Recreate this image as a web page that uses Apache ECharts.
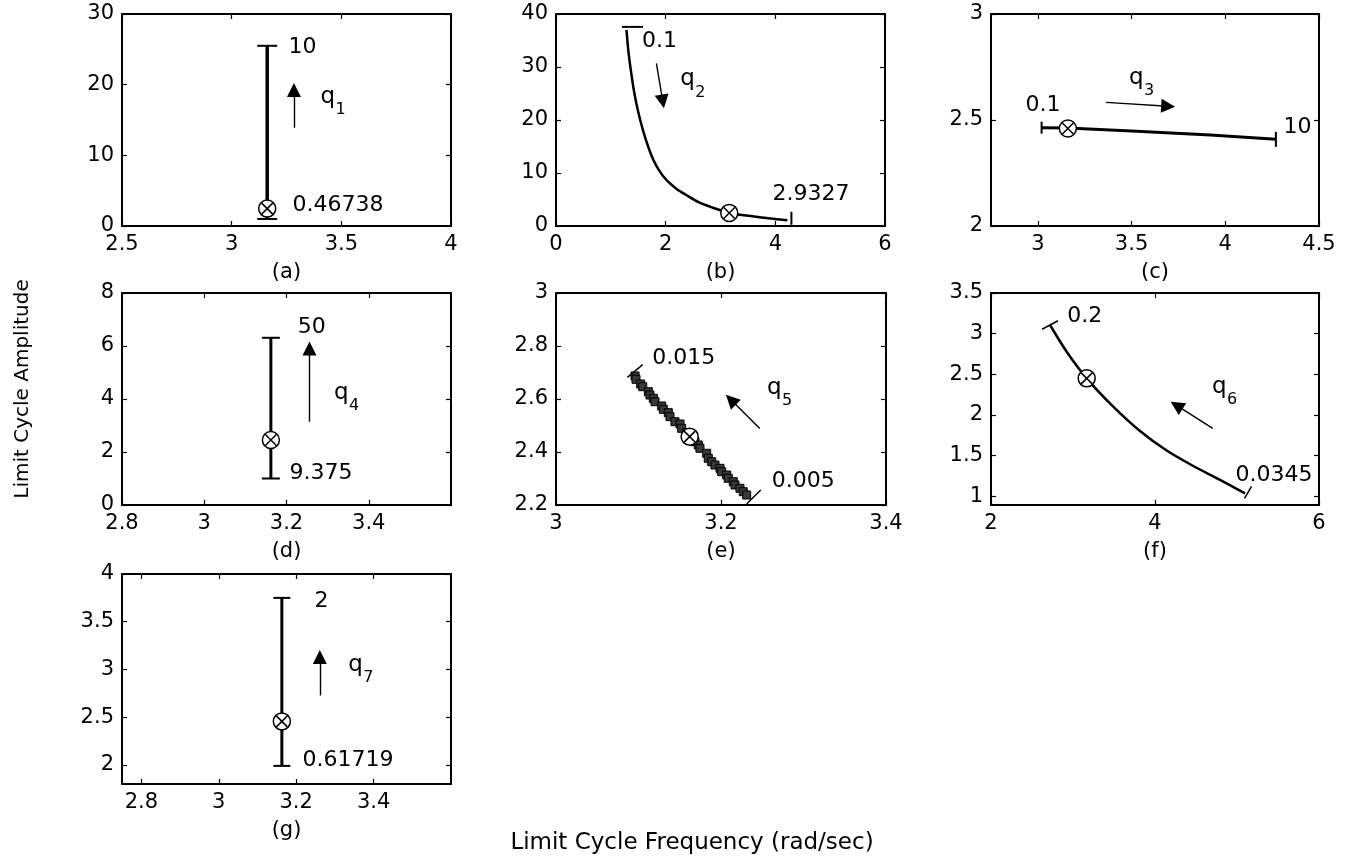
<!DOCTYPE html>
<html><head><meta charset="utf-8">
<script src="https://cdn.jsdelivr.net/npm/echarts@6/dist/echarts.min.js"></script>
<style>html,body{margin:0;padding:0;background:#fff}#c{width:1355px;height:862px}</style>
</head><body><div id="c"></div>
<script>
// ---------------- DATA ----------------
// (a) q1
const lineA = [[3.162, 1.0], [3.162, 25.5]];
const markA = [3.162, 2.46];
const arrowA = [[3.284, 13.9], [3.284, 19.25]];
const textA = [['10', 3.257, 25.3], ['0.46738', 3.275, 3.0]];
const qA = [3.403, 17.7]; const subA = '1';
const xTicksA = [2.5, 3, 3.5, 4]; const yTicksA = [0, 10, 20, 30];
const xRangeA = [2.5, 4]; const yRangeA = [0, 30];

// (b) q2
const lineB = [[1.285, 37.0], [1.32, 33.0], [1.37, 29.0], [1.43, 25.0], [1.5, 21.5], [1.588, 18.0], [1.68, 15.0],
  [1.77, 12.6], [1.88, 10.5], [2.012, 8.7], [2.2, 7.0], [2.376, 5.85], [2.6, 4.5], [2.85, 3.5], [3.16, 2.47],
  [3.648, 1.75], [4.22, 1.08]];
const markB = [3.16, 2.47];
const arrowB = [[1.831, 30.7], [1.947, 23.5]];
const textB = [['0.1', 1.558, 34.8], ['2.9327', 3.94, 6.04]];
const qB = [2.255, 26.9]; const subB = '2';
const xTicksB = [0, 2, 4, 6]; const yTicksB = [0, 10, 20, 30, 40];
const xRangeB = [0, 6]; const yRangeB = [0, 40];

// (c) q3
const lineC = [[3.02, 2.464], [3.16, 2.462], [3.5, 2.448], [3.92, 2.429], [4.27, 2.409]];
const markC = [3.16, 2.46];
const arrowC = [[3.364, 2.583], [3.695, 2.565]];
const textC = [['0.1', 2.931, 2.571], ['10', 4.308, 2.465]];
const qC = [3.483, 2.679]; const subC = '3';
const xTicksC = [3, 3.5, 4, 4.5]; const yTicksC = [2, 2.5, 3];
const xRangeC = [2.75, 4.5]; const yRangeC = [2, 3];

// (d) q4
const lineD = [[3.162, 1.0], [3.162, 6.31]];
const markD = [3.162, 2.45];
const arrowD = [[3.256, 3.14], [3.256, 5.91]];
const textD = [['50', 3.226, 6.7], ['9.375', 3.206, 1.2]];
const qD = [3.314, 4.08]; const subD = '4';
const xTicksD = [2.8, 3, 3.2, 3.4]; const yTicksD = [0, 2, 4, 6, 8];
const xRangeD = [2.8, 3.6]; const yRangeD = [0, 8];

// (e) q5
const squaresE = [[3.0958, 2.6868], [3.0970, 2.6743], [3.1026, 2.6566], [3.1051, 2.6464], [3.1119, 2.6275],
  [3.1139, 2.6151], [3.1180, 2.6026], [3.1200, 2.5898], [3.1281, 2.5736], [3.1301, 2.5611], [3.1361, 2.5483],
  [3.1382, 2.5332], [3.1442, 2.5143], [3.1503, 2.5057], [3.1523, 2.4894], [3.1584, 2.4728], [3.1685, 2.4389],
  [3.1725, 2.4264], [3.1745, 2.4140], [3.1826, 2.3951], [3.1846, 2.3762], [3.1887, 2.3634], [3.1927, 2.3509],
  [3.1988, 2.3385], [3.2008, 2.3257], [3.2069, 2.3132], [3.2088, 2.3008], [3.2149, 2.2879], [3.2170, 2.2755],
  [3.2230, 2.2630], [3.2270, 2.2502], [3.2311, 2.2377]];
const markE = [3.162, 2.458];
const arrowE = [[3.247, 2.489], [3.212, 2.597]];
const textE = [['0.015', 3.116, 2.753], ['0.005', 3.261, 2.288]];
const qE = [3.255, 2.626]; const subE = '5';
const xTicksE = [3, 3.2, 3.4]; const yTicksE = [2.2, 2.4, 2.6, 2.8, 3];
const xRangeE = [3, 3.4]; const yRangeE = [2.2, 3];

// (f) q6
const lineF = [[2.72, 3.106], [2.923, 2.777], [3.167, 2.449], [3.491, 2.10], [3.817, 1.80], [4.142, 1.56],
  [4.467, 1.37], [4.793, 1.20], [5.098, 1.033]];
const markF = [3.167, 2.449];
const arrowF = [[4.704, 1.833], [4.263, 2.116]];
const textF = [['0.2', 2.923, 3.208], ['0.0345', 4.976, 1.259]];
const qF = [4.69, 2.293]; const subF = '6';
const xTicksF = [2, 4, 6]; const yTicksF = [1, 1.5, 2, 2.5, 3, 3.5];
const xRangeF = [2, 6]; const yRangeF = [0.89, 3.5];

// (g) q7
const lineG = [[3.163, 1.99], [3.163, 3.75]];
const markG = [3.163, 2.456];
const arrowG = [[3.261, 2.727], [3.261, 3.13]];
const textG = [['2', 3.246, 3.71], ['0.61719', 3.215, 2.05]];
const qG = [3.333, 3.008]; const subG = '7';
const xTicksG = [2.8, 3, 3.2, 3.4]; const yTicksG = [2, 2.5, 3, 3.5, 4];
const xRangeG = [2.75, 3.6]; const yRangeG = [1.8, 4];

const xTitle = 'Limit Cycle Frequency (rad/sec)';
const yTitle = 'Limit Cycle Amplitude';

// ---------------- BUILD ----------------
const F = 'DejaVu Sans';
const fmt = v => String(Math.round(v * 1000) / 1000);
const option = { animation: false, backgroundColor: '#fff', grid: [], xAxis: [], yAxis: [], series: [], graphic: [] };

function axisBase(i, range, ticks) {
  return {
    type: 'value', gridIndex: i, min: range[0], max: range[1],
    splitLine: { show: false },
    axisLine: { show: true, onZero: false, lineStyle: { color: '#000', width: 2 } },
    axisTick: { show: true, inside: true, length: 5, customValues: ticks, lineStyle: { color: '#000', width: 1.2 } }
  };
}
const tickLabel = (ticks) => ({ show: true, customValues: ticks, formatter: fmt, margin: 8, fontFamily: F, fontSize: 21, color: '#000' });

function addPanel(i, D, S) {
  option.grid.push({ left: S.grid[0], top: S.grid[1], width: S.grid[2], height: S.grid[3] });
  option.xAxis.push(Object.assign(axisBase(i, D.xr, D.xt), {
    position: 'bottom', name: '(' + D.letter + ')', nameLocation: 'middle', nameGap: 36,
    nameTextStyle: { fontFamily: F, fontSize: 21, color: '#000' }, axisLabel: tickLabel(D.xt)
  }));
  option.xAxis.push(Object.assign(axisBase(i, D.xr, D.xt), { position: 'top', axisLabel: { show: false } }));
  option.yAxis.push(Object.assign(axisBase(i, D.yr, D.yt), { position: 'left', axisLabel: tickLabel(D.yt) }));
  option.yAxis.push(Object.assign(axisBase(i, D.yr, D.yt), { position: 'right', axisLabel: { show: false } }));
  const ax = { xAxisIndex: 2 * i, yAxisIndex: 2 * i };
  const path = D.line || D.squares;
  if (D.line) {
    option.series.push(Object.assign({ type: 'line', data: D.line, symbol: 'none', silent: true, z: 2, smooth: S.smooth || false,
      lineStyle: { color: '#000', width: S.lw } }, ax));
  }
  if (D.squares) {
    option.series.push(Object.assign({ type: 'scatter', data: D.squares, symbol: 'rect', symbolSize: 8, silent: true, z: 2,
      itemStyle: { color: '#383838', borderColor: '#000', borderWidth: 1, opacity: 1 } }, ax));
  }
  // end caps
  const ends = [path[0], path[path.length - 1]];
  option.series.push(Object.assign({ type: 'scatter', silent: true, z: 3,
    data: ends.map((p, k) => ({ value: p, symbol: 'rect', symbolSize: S.caps[k].size,
      symbolRotate: S.caps[k].rot || 0, symbolOffset: S.caps[k].off || [0, 0] })),
    itemStyle: { color: '#000', opacity: 1 } }, ax));
  // arrow
  option.series.push(Object.assign({ type: 'lines', coordinateSystem: 'cartesian2d', silent: true, z: 3,
    symbol: ['none', 'triangle'], symbolSize: 14,
    lineStyle: { color: '#000', width: 1.4, opacity: 1, curveness: 0 },
    data: [{ coords: D.arrow }] }, ax));
  // equilibrium marker
  option.series.push(Object.assign({ type: 'scatter', silent: true, z: 5, data: [D.mark], symbol: 'circle', symbolSize: 17,
    itemStyle: { color: '#fff', borderColor: '#000', borderWidth: 1.5, opacity: 1 } }, ax));
  option.series.push(Object.assign({ type: 'scatter', silent: true, z: 6, data: [D.mark], symbol: 'path://M0,0L10,10M10,0L0,10',
    symbolSize: 11, itemStyle: { color: 'rgba(0,0,0,0)', borderColor: '#000', borderWidth: 1.5, opacity: 1 } }, ax));
  // numeric annotations
  option.series.push(Object.assign({ type: 'scatter', silent: true, z: 7, symbolSize: 1,
    itemStyle: { color: 'rgba(0,0,0,0)', opacity: 1 },
    data: D.texts.map(t => ({ value: [t[1], t[2]], name: t[0] })),
    label: { show: true, position: 'right', distance: 0, formatter: '{b}', fontFamily: F, fontSize: 22, color: '#000', opacity: 1 } }, ax));
  // q with subscript
  option.series.push(Object.assign({ type: 'scatter', silent: true, z: 7, symbolSize: 1,
    itemStyle: { color: 'rgba(0,0,0,0)', opacity: 1 },
    data: [
      { value: D.q, name: 'q', label: { fontSize: 23, offset: [0, -4] } },
      { value: D.q, name: D.sub, label: { fontSize: 16, offset: [15, 9] } }
    ],
    label: { show: true, position: 'right', distance: 0, formatter: '{b}', fontFamily: F, color: '#000', opacity: 1 } }, ax));
}

addPanel(0, { letter: 'a', line: lineA, mark: markA, arrow: arrowA, texts: textA, q: qA, sub: subA, xt: xTicksA, yt: yTicksA, xr: xRangeA, yr: yRangeA },
  { grid: [122, 14, 329, 212], lw: 3.5, caps: [{ size: [20, 2] }, { size: [20, 2] }] });
addPanel(1, { letter: 'b', line: lineB, mark: markB, arrow: arrowB, texts: textB, q: qB, sub: subB, xt: xTicksB, yt: yTicksB, xr: xRangeB, yr: yRangeB },
  { grid: [556, 14, 329, 212], lw: 2.5, smooth: 0.3, caps: [{ size: [21, 2], off: [6, -3] }, { size: [2, 13], off: [4, -2] }] });
addPanel(2, { letter: 'c', line: lineC, mark: markC, arrow: arrowC, texts: textC, q: qC, sub: subC, xt: xTicksC, yt: yTicksC, xr: xRangeC, yr: yRangeC },
  { grid: [991, 14, 328, 212], lw: 3, caps: [{ size: [2, 12] }, { size: [2, 15] }] });
addPanel(3, { letter: 'd', line: lineD, mark: markD, arrow: arrowD, texts: textD, q: qD, sub: subD, xt: xTicksD, yt: yTicksD, xr: xRangeD, yr: yRangeD },
  { grid: [122, 293, 329, 212], lw: 3, caps: [{ size: [18, 2] }, { size: [18, 2] }] });
addPanel(4, { letter: 'e', squares: squaresE, mark: markE, arrow: arrowE, texts: textE, q: qE, sub: subE, xt: xTicksE, yt: yTicksE, xr: xRangeE, yr: yRangeE },
  { grid: [556, 293, 330, 212], lw: 2, caps: [{ size: [20, 1.5], rot: 40, off: [0, -5] }, { size: [20, 1.5], rot: 45, off: [7, 2] }] });
addPanel(5, { letter: 'f', line: lineF, mark: markF, arrow: arrowF, texts: textF, q: qF, sub: subF, xt: xTicksF, yt: yTicksF, xr: xRangeF, yr: yRangeF },
  { grid: [991, 293, 328, 212], lw: 2.5, smooth: 0.3, caps: [{ size: [18, 1.5], rot: 28 }, { size: [14, 1.5], rot: 60, off: [3, -1] }] });
addPanel(6, { letter: 'g', line: lineG, mark: markG, arrow: arrowG, texts: textG, q: qG, sub: subG, xt: xTicksG, yt: yTicksG, xr: xRangeG, yr: yRangeG },
  { grid: [122, 574, 329, 210], lw: 3, caps: [{ size: [17, 2] }, { size: [17, 2] }] });

option.graphic = [
  { type: 'text', x: 692, y: 843, style: { text: xTitle, fontFamily: F, fontSize: 23, fill: '#000', align: 'center', verticalAlign: 'middle' } },
  { type: 'text', x: 23, y: 389, rotation: Math.PI / 2, style: { text: yTitle, fontFamily: F, fontSize: 20, fill: '#000', align: 'center', verticalAlign: 'middle' } }
];

const chart = echarts.init(document.getElementById('c'), null, { renderer: 'canvas', width: 1355, height: 862 });
chart.setOption(option);
</script>
</body></html>
